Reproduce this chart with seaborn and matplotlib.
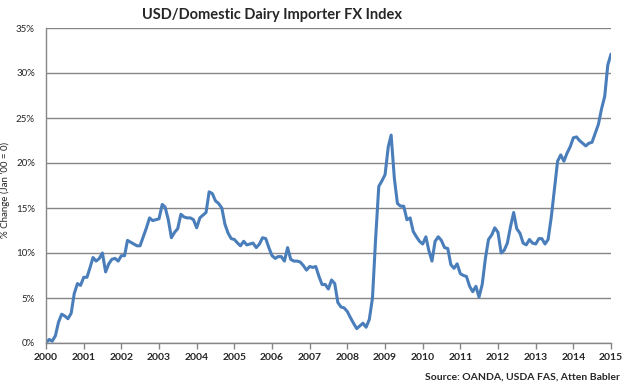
import matplotlib
matplotlib.use("Agg")
import matplotlib.pyplot as plt
import matplotlib.dates as mdates
from matplotlib.ticker import FuncFormatter, MultipleLocator
import numpy as np
import pandas as pd
import seaborn as sns

# ---- data (monthly % change vs Jan 2000) ----
start_month = "2000-01-01"
fx_2000 = [0.0, 0.4, 0.2, 0.8, 2.3, 3.2, 3.0, 2.7, 3.3, 5.5, 6.6, 6.4]
fx_2001 = [7.3, 7.3, 8.3, 9.5, 9.1, 9.4, 10.0, 7.9, 8.8, 9.3, 9.4, 9.1]
fx_2002 = [9.7, 9.7, 11.4, 11.2, 11.0, 10.8, 10.8, 11.8, 12.8, 13.9, 13.6, 13.7]
fx_2003 = [13.8, 15.4, 15.1, 13.7, 11.7, 12.3, 12.7, 14.3, 14.0, 13.9, 13.9, 13.7]
fx_2004 = [12.8, 13.9, 14.2, 14.5, 16.8, 16.6, 15.8, 15.5, 15.0, 13.2, 12.2, 11.6]
fx_2005 = [11.5, 11.1, 10.8, 11.3, 10.9, 11.0, 11.1, 10.6, 11.0, 11.7, 11.6, 10.6]
fx_2006 = [9.7, 9.4, 9.6, 9.6, 9.1, 10.6, 9.3, 9.1, 9.1, 9.0, 8.6, 8.1]
fx_2007 = [8.5, 8.4, 8.5, 7.4, 6.5, 6.5, 6.0, 7.0, 6.6, 4.5, 4.0, 3.9]
fx_2008 = [3.5, 2.8, 2.2, 1.6, 1.9, 2.2, 1.75, 2.6, 5.0, 11.5, 17.4, 18.0]
fx_2009 = [18.7, 21.8, 23.1, 18.3, 15.5, 15.2, 15.2, 13.7, 13.9, 12.4, 11.8, 11.3]
fx_2010 = [11.0, 11.8, 10.3, 9.1, 11.3, 11.8, 11.4, 10.6, 10.5, 8.7, 8.3, 8.8]
fx_2011 = [7.7, 7.5, 7.4, 6.3, 5.7, 6.3, 5.1, 6.5, 9.4, 11.5, 12.0, 12.8]
fx_2012 = [12.3, 10.0, 10.3, 11.1, 12.9, 14.5, 12.7, 12.2, 11.1, 10.9, 11.5, 11.1]
fx_2013 = [11.0, 11.6, 11.6, 11.0, 11.5, 14.0, 17.0, 20.2, 20.9, 20.2, 21.1, 21.8]
fx_2014 = [22.8, 22.9, 22.5, 22.2, 21.9, 22.2, 22.3, 23.3, 24.3, 26.0, 27.4, 30.9]
fx_2015 = [32.1]

fx_change = (fx_2000 + fx_2001 + fx_2002 + fx_2003 + fx_2004 + fx_2005 + fx_2006
             + fx_2007 + fx_2008 + fx_2009 + fx_2010 + fx_2011 + fx_2012 + fx_2013
             + fx_2014 + fx_2015)
months = pd.date_range(start_month, periods=len(fx_change), freq="MS")
year_labels = [str(y) for y in range(2000, 2016)]

df = pd.DataFrame({"month": months, "fx": fx_change})

title = "USD/Domestic Dairy Importer FX Index"
ylabel = "% Change (Jan '00 = 0)"
source = "Source: OANDA, USDA FAS, Atten Babler"

# ---- style ----
sns.set_style("white")
plt.rcParams["font.family"] = ["Lato", "DejaVu Sans"]

fig = plt.figure(figsize=(6.28, 3.88), dpi=100)
ax = fig.add_axes([46 / 628, 1 - 343 / 388, (611 - 46) / 628, (343 - 28) / 388])

sns.lineplot(data=df, x="month", y="fx", ax=ax, color="#4A7EBB", linewidth=2.2)

ax.set_xlim(pd.Timestamp("2000-01-01"), pd.Timestamp("2015-01-01"))
ax.set_ylim(0, 35)
ax.yaxis.set_major_locator(MultipleLocator(5))
ax.yaxis.set_major_formatter(FuncFormatter(lambda v, p: f"{v:.0f}%"))
ax.set_xticks([pd.Timestamp(f"{y}-01-01") for y in year_labels])
ax.set_xticklabels(year_labels, fontweight="bold", fontsize=7.5)

ax.grid(axis="y", color="#868686", linewidth=1.0)
ax.grid(axis="x", visible=False)
ax.set_axisbelow(True)

for s in ["top", "right"]:
    ax.spines[s].set_visible(False)
for s in ["left", "bottom"]:
    ax.spines[s].set_visible(True)
    ax.spines[s].set_color("#868686")
    ax.spines[s].set_linewidth(1.0)

ax.tick_params(axis="x", direction="out", length=4, width=1, color="#868686",
               pad=3, bottom=True)
ax.tick_params(axis="y", length=0, pad=8, labelsize=7)

ax.set_xlabel("")
ax.set_ylabel(ylabel, fontsize=7)
ax.yaxis.set_label_coords((10 - 46) / 565, (343 - 190) / 315)

fig.text(272 / 628, 1 - 15 / 388, title, ha="center", va="center",
         fontsize=10.5, fontweight="bold")
fig.text(620 / 628, 1 - 377 / 388, source, ha="right", va="center",
         fontsize=7.5, fontweight="bold")

fig.savefig("out.png", dpi=100)
